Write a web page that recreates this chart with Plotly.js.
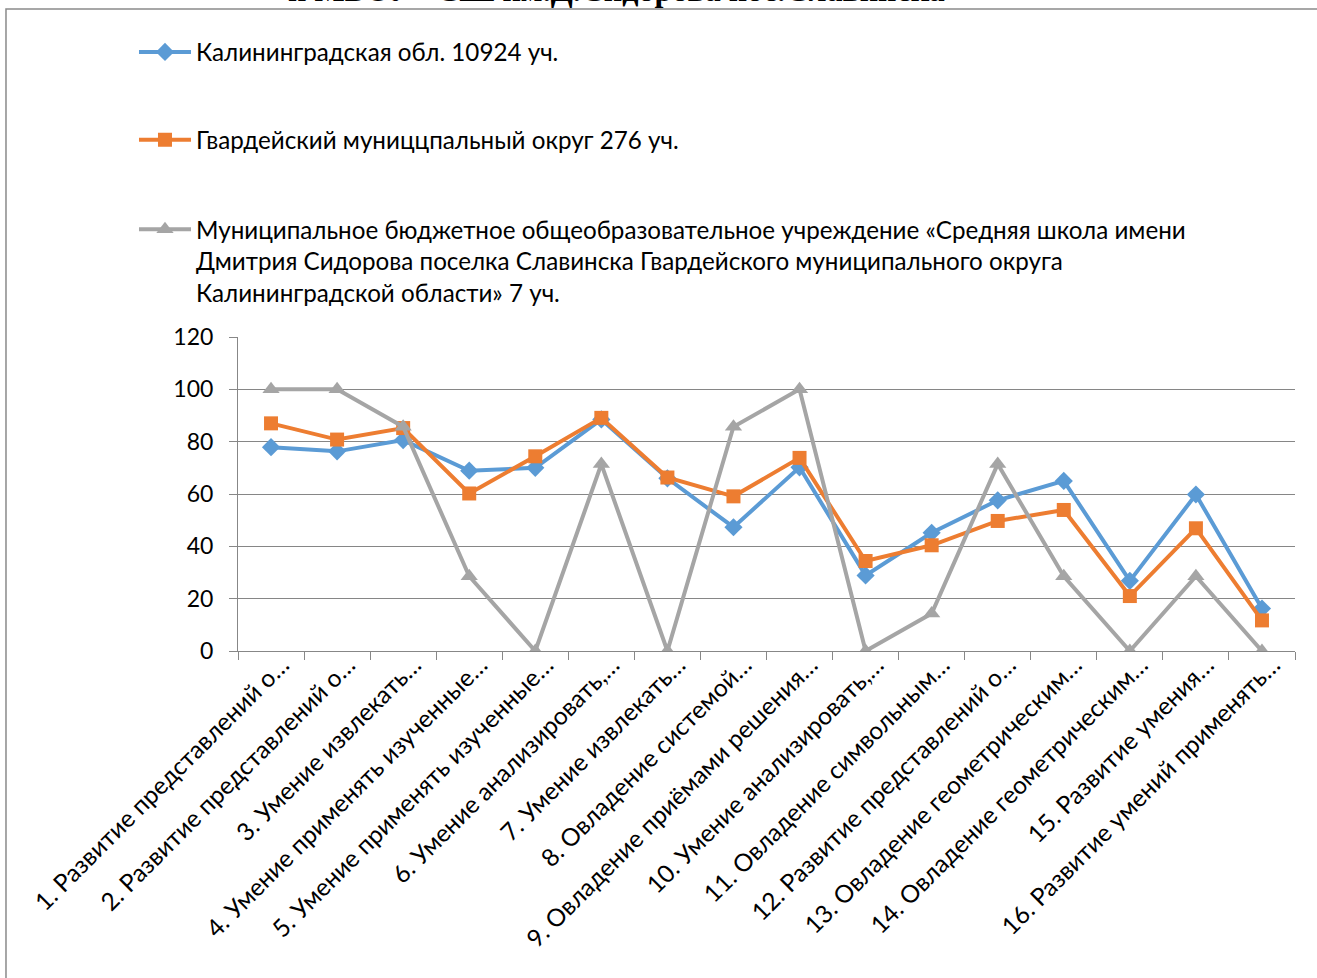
<!DOCTYPE html>
<html>
<head>
<meta charset="utf-8">
<script src="https://cdn.plot.ly/plotly-3.0.1.min.js"></script>
<style>html,body{margin:0;padding:0;background:#fff;}#chart{width:1317px;height:978px;}</style>
</head>
<body>
<div id="chart"></div>
<script>
const categories = [
  "1. Развитие представлений о…",
  "2. Развитие представлений о…",
  "3. Умение извлекать…",
  "4. Умение применять изученные…",
  "5. Умение применять изученные…",
  "6. Умение анализировать,…",
  "7. Умение извлекать…",
  "8. Овладение системой…",
  "9. Овладение приёмами решения…",
  "10. Умение анализировать,…",
  "11. Овладение символьным…",
  "12. Развитие представлений о…",
  "13. Овладение геометрическим…",
  "14. Овладение геометрическим…",
  "15. Развитие умения…",
  "16. Развитие умений применять…"
];
const regionValues = [77.9, 76.3, 80.6, 68.9, 70.0, 88.5, 66.0, 47.3, 70.2, 28.9, 45.2, 57.6, 65.0, 26.8, 59.8, 16.2];
const districtValues = [87.0, 80.8, 85.2, 60.2, 74.4, 89.1, 66.3, 59.1, 73.8, 34.4, 40.4, 49.7, 53.9, 21.0, 46.9, 11.7];
const schoolValues = [100, 100, 85.71, 28.57, 0, 71.43, 0, 85.71, 100, 0, 14.29, 71.43, 28.57, 0, 28.57, 0];
const seriesNames = [
  "Калининградская обл. 10924 уч.",
  "Гвардейский муниццпальный округ 276 уч.",
  "Муниципальное бюджетное общеобразовательное учреждение «Средняя школа имени<br>Дмитрия Сидорова поселка Славинска Гвардейского муниципального округа<br>Калининградской области» 7 уч."
];
const yTicks = [0, 20, 40, 60, 80, 100, 120];
const titleText = "и МБОУ «СШ им.Д.Сидорова пос.Славинска»";

const FONT = "Lato, 'Open Sans', sans-serif";
const traces = [
  {x: categories, y: regionValues, name: seriesNames[0], type: "scatter", mode: "lines+markers",
   line: {color: "#5B9BD5", width: 4}, marker: {symbol: "diamond", size: 14, color: "#5B9BD5"}, legend: "legend"},
  {x: categories, y: districtValues, name: seriesNames[1], type: "scatter", mode: "lines+markers",
   line: {color: "#ED7D31", width: 4}, marker: {symbol: "square", size: 14, color: "#ED7D31"}, legend: "legend2"},
  {x: categories, y: schoolValues, name: seriesNames[2], type: "scatter", mode: "lines+markers",
   line: {color: "#A5A5A5", width: 4}, marker: {symbol: "triangle-up", size: 15, color: "#A5A5A5"}, legend: "legend3"}
];
const legBase = {xanchor: "left", bgcolor: "rgba(0,0,0,0)", borderwidth: 0, font: {family: FONT, size: 24.2, color: "#000"}, itemwidth: 52, valign: "top"};
const layout = {
  width: 1317, height: 978,
  margin: {l: 238, r: 22, t: 337, b: 327},
  paper_bgcolor: "#fff", plot_bgcolor: "#fff",
  font: {family: FONT, size: 21, color: "#000"},
  showlegend: true,
  legend: Object.assign({}, legBase, {x: -0.0984, y: 1.907, yanchor: "middle"}),
  legend2: Object.assign({}, legBase, {x: -0.0984, y: 1.627, yanchor: "middle"}),
  legend3: Object.assign({}, legBase, {x: -0.0984, y: 1.414, yanchor: "top"}),
  xaxis: {type: "category", range: [-0.5, 15.5], tickangle: -45, tickson: "boundaries", ticks: "outside", ticklen: 8,
          tickcolor: "#878787", showline: true, linecolor: "#878787", linewidth: 1, showgrid: false,
          ticklabelshift: 11, ticklabelstandoff: -11,
          tickfont: {family: FONT, size: 24.5, color: "#000"}, automargin: false},
  yaxis: {range: [0, 120], tickvals: yTicks, ticks: "outside", ticklen: 8, tickcolor: "#878787",
          showline: true, linecolor: "#878787", linewidth: 1, gridcolor: "#868686", gridwidth: 1,
          zeroline: false, ticklabelstandoff: 11, tickfont: {family: FONT, size: 23, color: "#000"}, automargin: false},
  shapes: [{type: "rect", xref: "paper", yref: "paper", x0: -0.2195, x1: 1.03, y0: -1.2, y1: 2.0446,
            line: {color: "#8a8a8a", width: 1.5}, fillcolor: "rgba(0,0,0,0)", layer: "below"}],
  annotations: [{xref: "paper", yref: "paper", x: 0.366, y: 2.041, xanchor: "center", yanchor: "bottom",
                 text: "<b>" + titleText + "</b>", showarrow: false,
                 font: {family: "'Liberation Serif', 'Times New Roman', serif", size: 32, color: "#000"}}]
};
Plotly.newPlot("chart", traces, layout, {displayModeBar: false, staticPlot: true});
</script>
</body>
</html>
